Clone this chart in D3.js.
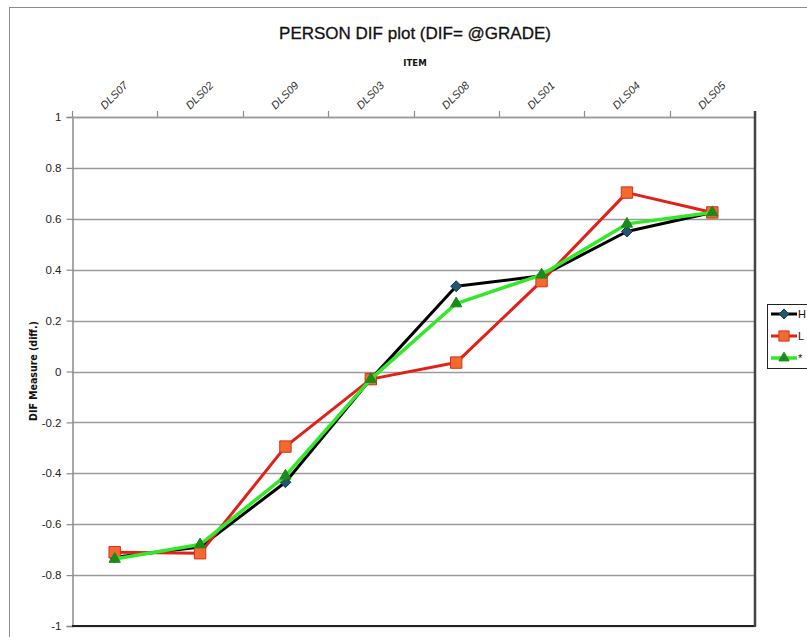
<!DOCTYPE html>
<html><head><meta charset="utf-8">
<script src="https://cdn.jsdelivr.net/npm/d3@7"></script>
<style>body{margin:0;background:#fff;} svg{display:block;}</style>
</head><body>
<svg id="chart" width="807" height="637"></svg>
<script>
const categories = ["DLS07","DLS02","DLS09","DLS03","DLS08","DLS01","DLS04","DLS05"];
const seriesNames = ["H","L","*"];
const valuesH = [-0.73,-0.69,-0.435,-0.03,0.335,0.376,0.55,0.625];
const valuesL = [-0.71,-0.714,-0.295,-0.03,0.035,0.355,0.703,0.625];
const valuesStar = [-0.737,-0.68,-0.41,-0.03,0.267,0.38,0.58,0.625];
const yTicks = [1,0.8,0.6,0.4,0.2,0,-0.2,-0.4,-0.6,-0.8,-1];
const yTickLabels = ["1","0.8","0.6","0.4","0.2","0","-0.2","-0.4","-0.6","-0.8","-1"];

const svg = d3.select("#chart");
const m = {left:72, right:755, top:117, bottom:626};

svg.append("rect").attr("x",9.5).attr("y",7.5).attr("width",830).attr("height",660)
  .attr("fill","#fff").attr("stroke","#8c8c8c").attr("stroke-width",1);

const x = d3.scaleBand().domain(categories).range([m.left,m.right]);
const y = d3.scaleLinear().domain([-1,1]).range([m.bottom,m.top]);

// gridlines
svg.append("g").selectAll("line").data(yTicks).join("line")
  .attr("x1",m.left).attr("x2",m.right)
  .attr("y1",d=>Math.round(y(d))+0.5).attr("y2",d=>Math.round(y(d))+0.5)
  .attr("stroke","#9a9a9a").attr("stroke-width",1.5);

// y axis
const yAxis = d3.axisLeft(y).tickValues(yTicks).tickSize(6).tickPadding(5)
  .tickFormat((d,i)=>yTickLabels[i]);
const gy = svg.append("g").attr("transform",`translate(${m.left+0.5},0)`).call(yAxis);
gy.select(".domain").attr("stroke","#8c8c8c").attr("stroke-width",1.5);
gy.selectAll(".tick line").attr("stroke","#8c8c8c").attr("stroke-width",1.2);
gy.selectAll(".tick text").attr("font-family","Liberation Sans, Arial, sans-serif")
  .attr("font-size",11.5).attr("fill","#222");

// top x axis ticks at boundaries
const bounds = categories.map(c=>x(c)).concat([m.right]);
svg.append("g").selectAll("line").data(bounds).join("line")
  .attr("x1",d=>Math.round(d)+0.5).attr("x2",d=>Math.round(d)+0.5)
  .attr("y1",m.top-6).attr("y2",m.top+1)
  .attr("stroke","#8c8c8c").attr("stroke-width",1.2);
svg.append("line").attr("x1",m.left).attr("x2",m.right).attr("y1",m.top+0.5).attr("y2",m.top+0.5)
  .attr("stroke","#9a9a9a").attr("stroke-width",1.5);

// bottom & right borders
svg.append("line").attr("x1",m.left).attr("x2",m.right+1).attr("y1",m.bottom).attr("y2",m.bottom)
  .attr("stroke","#222").attr("stroke-width",2);
svg.append("line").attr("x1",m.right).attr("x2",m.right).attr("y1",m.top-6).attr("y2",m.bottom+1)
  .attr("stroke","#444").attr("stroke-width",2.5);

// category labels
svg.append("g").selectAll("text").data(categories).join("text")
  .attr("transform",d=>`translate(${x(d)+x.bandwidth()/2},${m.top-21}) rotate(-45)`)
  .attr("text-anchor","middle").attr("dominant-baseline","middle")
  .attr("font-family","Liberation Sans, Arial, sans-serif").attr("font-size",11)
  .attr("font-style","italic").attr("fill","#333").text(d=>d);

// titles
svg.append("text").attr("x",415).attr("y",39).attr("text-anchor","middle")
  .attr("font-family","Liberation Sans, Arial, sans-serif").attr("font-size",17)
  .attr("font-weight","500").attr("stroke","#111").attr("stroke-width",0.3)
  .attr("fill","#111").text("PERSON DIF plot (DIF= @GRADE)");
svg.append("text").attr("x",415).attr("y",66).attr("text-anchor","middle")
  .attr("font-family","DejaVu Sans Condensed, DejaVu Sans, sans-serif").attr("font-weight","bold")
  .attr("font-size",9.5).attr("fill","#111").text("ITEM");
svg.append("text").attr("transform","translate(37,371) rotate(-90)").attr("text-anchor","middle")
  .attr("font-family","DejaVu Sans Condensed, DejaVu Sans, sans-serif").attr("font-weight","bold")
  .attr("font-size",10.5).attr("fill","#111").text("DIF Measure (diff.)");

const diamond = {draw(ctx,size){const r=Math.sqrt(size/2);ctx.moveTo(0,-r);ctx.lineTo(r,0);ctx.lineTo(0,r);ctx.lineTo(-r,0);ctx.closePath();}};
const series = [
  {name:seriesNames[0], values:valuesH, line:"#000000", lw:3, marker:"diamond", fill:"#24566f", stroke:"#1a3a4a", size:60},
  {name:seriesNames[1], values:valuesL, line:"#e41f18", lw:3, marker:"square", fill:"#f26a2e", stroke:"#d8301c", size:130},
  {name:seriesNames[2], values:valuesStar, line:"#33e82a", lw:3.5, marker:"triangle", fill:"#1a8a1a", stroke:"#1a8a1a", size:55}
];
const symMap = {diamond:diamond, square:d3.symbolSquare, triangle:d3.symbolTriangle};
const lineGen = d3.line().x((d,i)=>x(categories[i])+x.bandwidth()/2).y(d=>y(d));

series.forEach(s=>{
  const g = svg.append("g");
  g.append("path").attr("d",lineGen(s.values)).attr("fill","none")
    .attr("stroke",s.line).attr("stroke-width",s.lw).attr("stroke-linejoin","round");
  g.selectAll("path.mk").data(s.values).join("path").attr("class","mk")
    .attr("transform",(d,i)=>`translate(${x(categories[i])+x.bandwidth()/2},${y(d)})`)
    .attr("d",d3.symbol().type(symMap[s.marker]).size(s.size))
    .attr("fill",s.fill).attr("stroke",s.stroke).attr("stroke-width",1);
});

// legend
const lg = svg.append("g");
lg.append("rect").attr("x",767.5).attr("y",304.5).attr("width",60).attr("height",64)
  .attr("fill","#fff").attr("stroke","#222").attr("stroke-width",1);
series.forEach((s,i)=>{
  const yy = 314 + i*22;
  lg.append("line").attr("x1",771).attr("x2",797).attr("y1",yy).attr("y2",yy)
    .attr("stroke",s.line).attr("stroke-width",s.lw);
  lg.append("path").attr("transform",`translate(784,${yy})`)
    .attr("d",d3.symbol().type(symMap[s.marker]).size(s.size*0.8))
    .attr("fill",s.fill).attr("stroke",s.stroke).attr("stroke-width",1);
  lg.append("text").attr("x",798).attr("y",yy+4).attr("font-family","Liberation Sans, Arial, sans-serif")
    .attr("font-size",11).attr("fill","#111").text(s.name);
});
</script>
</body></html>
